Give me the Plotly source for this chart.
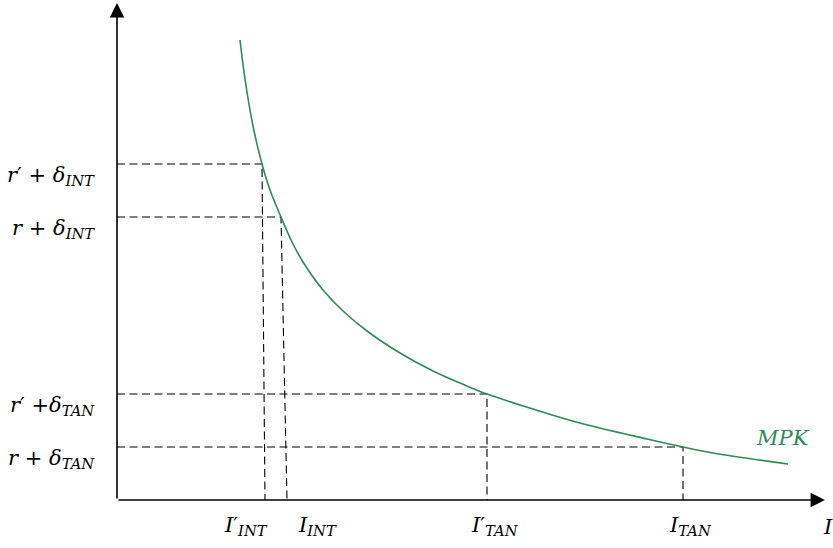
import plotly.graph_objects as go

# Marginal product of capital curve (I on x, rate on y), sampled points
mpk_I = [123, 128, 136, 145, 153, 164, 175, 186, 206, 226, 250, 283, 316, 350,
         370, 416, 463, 530, 566, 596, 671]
mpk_r = [460, 421, 374, 336, 310, 283, 258, 238, 210, 189, 169, 147, 129, 114,
         106, 91, 77, 61, 53, 47, 36]

# Required returns (hurdle rates) and where they meet the curve
rate_labels = ["<i>r</i>′ + <i>δ</i><sub><i>INT</i></sub>",
               "<i>r</i> + <i>δ</i><sub><i>INT</i></sub>",
               "<i>r</i>′ +<i>δ</i><sub><i>TAN</i></sub>",
               "<i>r</i> + <i>δ</i><sub><i>TAN</i></sub>"]
rate_levels = [336, 283, 106, 53]
curve_I = [145, 164, 370, 566]       # I where each rate level meets MPK
axis_I = [148, 170, 370, 566]        # I where each drop line reaches the axis
inv_labels = ["<i>I</i>′<sub><i>INT</i></sub>", "<i>I</i><sub><i>INT</i></sub>",
              "<i>I</i>′<sub><i>TAN</i></sub>", "<i>I</i><sub><i>TAN</i></sub>"]
inv_label_pos = [129, 200, 378, 573]

GREEN = "#2e8b57"
FONT = "DejaVu Serif"
FS = 21
DASH = "8px,4.5px"

fig = go.Figure()

# Dashed guides: horizontal from the r axis to the curve, then down to the I axis
for lvl, ci, ai in zip(rate_levels, curve_I, axis_I):
    fig.add_trace(go.Scatter(x=[0, ci, ai], y=[lvl, lvl, 0], mode="lines",
                             line=dict(color="#000000", width=1.1, dash=DASH),
                             hoverinfo="skip", showlegend=False))

fig.add_trace(go.Scatter(x=mpk_I, y=mpk_r, mode="lines",
                         line=dict(color=GREEN, width=1.6, shape="spline", smoothing=1),
                         hoverinfo="skip", showlegend=False))

ann = []
# Axes with arrow tips
for tip in [(0, 497), (708, 0)]:
    ann.append(dict(x=tip[0], y=tip[1], ax=0, ay=0, xref="x", yref="y",
                    axref="x", ayref="y", showarrow=True, arrowhead=2,
                    arrowsize=1.8, arrowwidth=1.6, arrowcolor="black", text=""))

for lbl, lvl in zip(rate_labels, rate_levels):
    ann.append(dict(x=-20, y=lvl - 12, xref="x", yref="y", text=lbl, showarrow=False,
                    xanchor="right", yanchor="middle",
                    font=dict(family=FONT, size=FS, color="black")))

for lbl, xi in zip(inv_labels, inv_label_pos):
    ann.append(dict(x=xi, y=-26, xref="x", yref="y", text=lbl, showarrow=False,
                    xanchor="center", yanchor="middle",
                    font=dict(family=FONT, size=FS, color="black")))

ann.append(dict(x=666, y=62, xref="x", yref="y", text="<i>MPK</i>", showarrow=False,
                xanchor="center", yanchor="middle",
                font=dict(family=FONT, size=FS, color=GREEN)))
ann.append(dict(x=704, y=-27, xref="x", yref="y", text="<i>I</i>", showarrow=False,
                xanchor="left", yanchor="middle",
                font=dict(family=FONT, size=FS, color="black")))

fig.update_layout(
    width=833, height=548,
    margin=dict(l=0, r=0, t=0, b=0),
    paper_bgcolor="white", plot_bgcolor="white",
    xaxis=dict(range=[-117, 716], visible=False, fixedrange=True),
    yaxis=dict(range=[-48, 500], visible=False, fixedrange=True),
    annotations=ann,
)

fig.write_html("out.html")
